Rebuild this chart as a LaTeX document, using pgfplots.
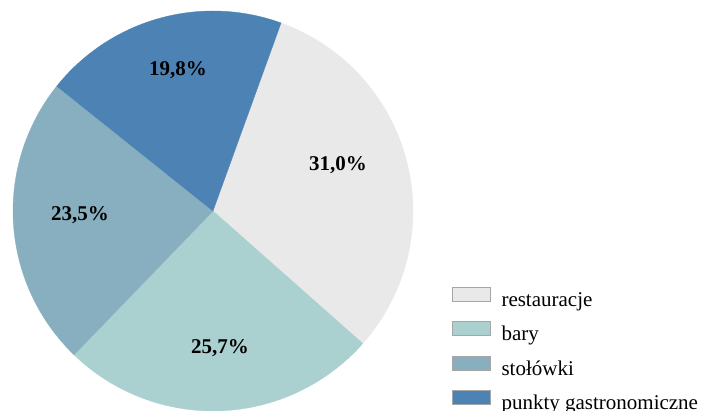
\documentclass[border=0pt]{standalone}
\usepackage{fontspec}
\setmainfont{Liberation Serif}
\usepackage{pgfplots}
\pgfplotsset{compat=1.18}
\definecolor{cA}{HTML}{E9E9E9}
\definecolor{cB}{HTML}{ABD0D0}
\definecolor{cC}{HTML}{87AFBF}
\definecolor{cD}{HTML}{4D82B4}
\begin{document}
\begin{tikzpicture}
\useasboundingbox (-13pt,0pt) rectangle (690pt,411pt);
% shares in percent
\def\pA{31.0}\def\pB{25.7}\def\pC{23.5}\def\pD{19.8}
\pgfmathsetmacro\sA{70.1}
\pgfmathsetmacro\eA{\sA-3.6*\pA}
\pgfmathsetmacro\eB{\eA-3.6*\pB}
\pgfmathsetmacro\eC{\eB-3.6*\pC}
\pgfmathsetmacro\eD{\eC-3.6*\pD}
\begin{axis}[
  at={(0pt,0pt)}, anchor=south west,
  scale only axis, width=400pt, height=400pt,
  xmin=-1, xmax=1, ymin=-1, ymax=1,
  hide axis, clip=false,
  legend style={at={(axis cs:1.197,-0.38)}, anchor=north west,
    draw=none, fill=none, inner sep=0pt, outer sep=0pt,
    font=\fontsize{21}{25}\selectfont,
    nodes={inner sep=0pt, text height=14pt, text depth=5pt},
    row sep=10.2pt, column sep=10.5pt},
  legend cell align=left,
  legend image code/.code={\draw[#1,draw=black!35,line width=0.6pt] (0pt,0.5pt) rectangle (38pt,14.5pt);},
]
\addplot[fill=cA, draw=cA, line width=0.3pt, domain=\eA:\sA, samples=90] ({cos(x)},{sin(x)}) -- (axis cs:0,0) -- cycle;
\addlegendentry{restauracje}
\addplot[fill=cB, draw=cB, line width=0.3pt, domain=\eB:\eA, samples=90] ({cos(x)},{sin(x)}) -- (axis cs:0,0) -- cycle;
\addlegendentry{bary}
\addplot[fill=cC, draw=cC, line width=0.3pt, domain=\eC:\eB, samples=90] ({cos(x)},{sin(x)}) -- (axis cs:0,0) -- cycle;
\addlegendentry{stołówki}
\addplot[fill=cD, draw=cD, line width=0.3pt, domain=\eD:\eC, samples=90] ({cos(x)},{sin(x)}) -- (axis cs:0,0) -- cycle;
\addlegendentry{punkty gastronomiczne}
\begin{scope}[every node/.style={font=\fontsize{21}{25}\selectfont\bfseries}]
\node at (axis cs:0.625,0.23) {31,0\%};
\node at (axis cs:0.035,-0.685) {25,7\%};
\node at (axis cs:-0.665,-0.02) {23,5\%};
\node at (axis cs:-0.175,0.705) {19,8\%};
\end{scope}
\end{axis}
\end{tikzpicture}
\end{document}
